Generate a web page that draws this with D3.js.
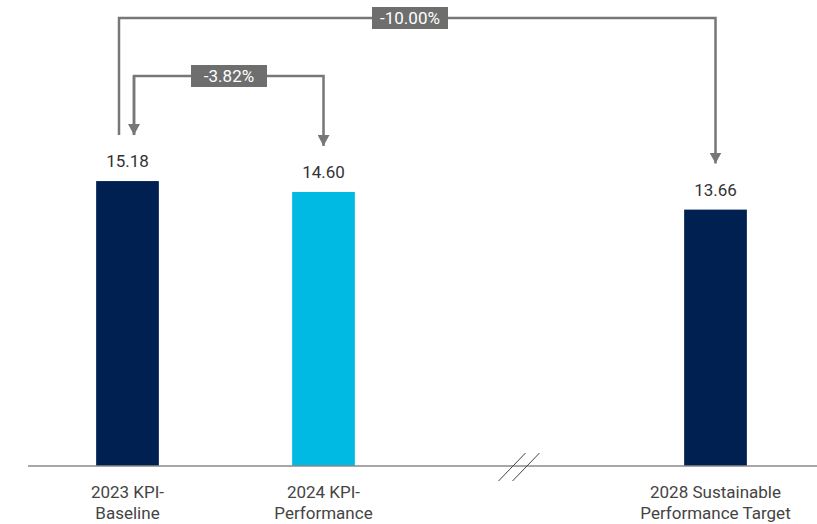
<!DOCTYPE html>
<html>
<head>
<meta charset="utf-8">
<script src="https://cdn.jsdelivr.net/npm/d3@7"></script>
<style>
  body { margin: 0; background: #fff; }
  text { font-family: Roboto, "Noto Sans", sans-serif; }
</style>
</head>
<body>
<svg width="817" height="524"></svg>
<script>
/* Data */

var categories = ["2023 KPI-|Baseline", "2024 KPI-|Performance", "gap", "2028 Sustainable|Performance Target"];
var values = [15.18, 14.60, null, 13.66];
var valueLabels = ["15.18", "14.60", "", "13.66"];
// change arrows: from category index, to category index, label
var changeFrom = [0, 0];
var changeTo = [1, 3];
var changeLabels = ["-3.82%", "-10.00%"];

/* Setup */

var svg = d3.select("svg");
var w = +svg.attr("width"),
    h = +svg.attr("height"),
    baseY = 466,
    arrowGap = 46;

var x = d3.scaleBand()
    .domain(categories)
    .range([29.5, 813.5])
    .paddingInner(0.68)
    .paddingOuter(0.34);

var y = d3.scaleLinear()
    .domain([0, 25])
    .range([baseY, baseY - 25 * 18.77]);

var color = d3.scaleOrdinal()
    .domain(categories)
    .range(["#002052", "#00bae3", "none", "#002052"]);

var bars = categories.map((c, i) => ({cat: c, v: values[i], label: valueLabels[i]}))
    .filter((d) => d.v !== null);

/* Bars */

svg.selectAll(".bar")
  .data(bars)
  .enter().append("rect")
  .classed("bar", true)
  .attr("x", (d) => x(d.cat))
  .attr("y", (d) => y(d.v))
  .attr("width", x.bandwidth())
  .attr("height", (d) => y(0) - y(d.v))
  .attr("fill", (d) => color(d.cat));

svg.selectAll(".vlabel")
  .data(bars)
  .enter().append("text")
  .classed("vlabel", true)
  .attr("x", (d) => x(d.cat) + x.bandwidth() / 2)
  .attr("y", (d) => y(d.v) - 14)
  .attr("text-anchor", "middle")
  .attr("font-size", 17)
  .attr("fill", "#333")
  .text((d) => d.label);

/* Axis */

var axis = svg.append("g")
  .attr("transform", `translate(0,${baseY})`)
  .call(d3.axisBottom(x).tickSize(0).tickFormat(""));
axis.select(".domain")
  .attr("d", `M28,0H${w}`)
  .attr("stroke", "#8a8a8a")
  .attr("stroke-width", 1.5);

bars.forEach((d) => {
  var lines = d.cat.split("|");
  var t = svg.append("text")
    .attr("x", x(d.cat) + x.bandwidth() / 2)
    .attr("y", 498)
    .attr("text-anchor", "middle")
    .attr("font-size", 17)
    .attr("fill", "#444");
  lines.forEach((l, i) => {
    t.append("tspan")
      .attr("x", x(d.cat) + x.bandwidth() / 2)
      .attr("dy", i === 0 ? 0 : 21)
      .text(l);
  });
});

// axis break marks at the gap slot
var gx = x("gap") + x.bandwidth() / 2;
[-7, 7].forEach((o) => {
  svg.append("line")
    .attr("x1", gx + o - 14).attr("y1", baseY + 15)
    .attr("x2", gx + o + 13).attr("y2", baseY - 13)
    .attr("stroke", "#444")
    .attr("stroke-width", 1);
});

/* Change arrows */

var arrowColor = "#777";
var levels = [76, 18];
var fromOffset = [6.5, -8.5];

svg.append("defs").append("marker")
  .attr("id", "head")
  .attr("viewBox", "0 0 12 11")
  .attr("refX", 6).attr("refY", 11)
  .attr("markerWidth", 12).attr("markerHeight", 11)
  .attr("markerUnits", "userSpaceOnUse")
  .attr("orient", "0")
  .append("path")
  .attr("d", "M0,0L12,0L6,11Z")
  .attr("fill", arrowColor);

changeLabels.forEach((lab, i) => {
  var a = categories[changeFrom[i]], b = categories[changeTo[i]];
  var x1 = x(a) + x.bandwidth() / 2 + fromOffset[i];
  var x2 = x(b) + x.bandwidth() / 2;
  var y1 = y(values[changeFrom[i]]) - arrowGap;
  var y2 = y(values[changeTo[i]]) - arrowGap;
  var ly = levels[i];
  svg.append("path")
    .attr("d", `M${x1},${y1}V${ly}H${x2}V${y2}`)
    .attr("fill", "none")
    .attr("stroke", arrowColor)
    .attr("stroke-width", 2.5)
    .attr("marker-end", "url(#head)");
  if (i === 0) {
    svg.append("path")
      .attr("d", `M${x1},${ly}V${y1}`)
      .attr("fill", "none")
      .attr("stroke", arrowColor)
      .attr("stroke-width", 2.5)
      .attr("marker-end", "url(#head)");
  }
  var cx = i === 0 ? 229 : 410;
  svg.append("rect")
    .attr("x", cx - 38).attr("y", ly - 11)
    .attr("width", 76).attr("height", 22)
    .attr("fill", "#6e6e6e");
  svg.append("text")
    .attr("x", cx).attr("y", ly + 6)
    .attr("text-anchor", "middle")
    .attr("font-size", 17)
    .attr("fill", "#fff")
    .text(lab);
});
</script>
</body>
</html>
